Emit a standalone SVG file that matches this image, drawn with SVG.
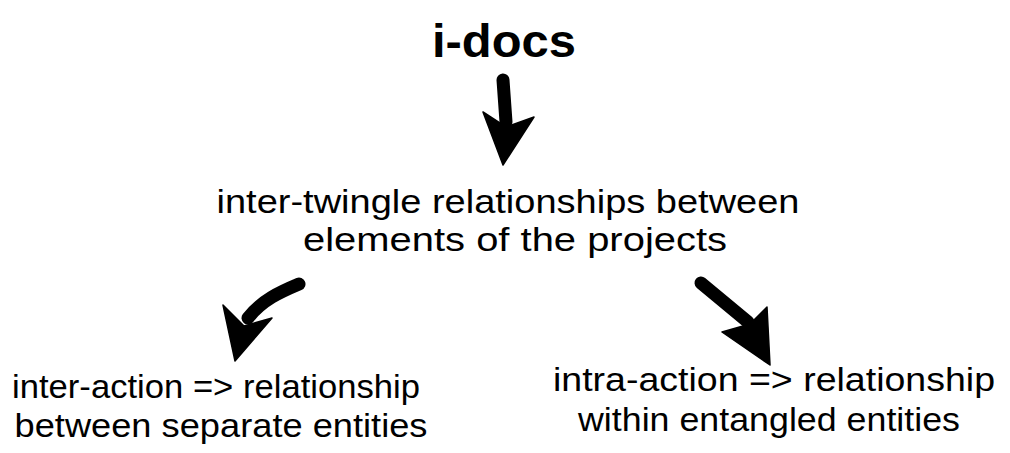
<svg xmlns="http://www.w3.org/2000/svg" width="1010" height="453" viewBox="0 0 1010 453">
<style>
.t{font-family:"Liberation Sans","Open Sans",sans-serif;fill:#000;font-size:33px}
.title{font-family:"Liberation Sans","Open Sans",sans-serif;fill:#000;font-size:46px;font-weight:bold}
.shaft{fill:none;stroke:#000;stroke-width:13;stroke-linecap:round;stroke-linejoin:round}
.head{fill:#000;stroke:#000;stroke-width:1.5;stroke-linejoin:round}
</style>
<rect width="1010" height="453" fill="#fff"/>
<g id="node-idocs"><text class="title" x="504" y="57" text-anchor="middle" textLength="144" lengthAdjust="spacingAndGlyphs">i-docs</text></g>
<g id="node-intertwingle">
<text class="t" x="508" y="213" text-anchor="middle" textLength="583" lengthAdjust="spacingAndGlyphs">inter-twingle relationships between</text>
<text class="t" x="515" y="251" text-anchor="middle" textLength="424" lengthAdjust="spacingAndGlyphs">elements of the projects</text>
</g>
<g id="node-interaction">
<text class="t" x="216" y="398" text-anchor="middle" textLength="408" lengthAdjust="spacingAndGlyphs">inter-action =&gt; relationship</text>
<text class="t" x="221" y="437" text-anchor="middle" textLength="413" lengthAdjust="spacingAndGlyphs">between separate entities</text>
</g>
<g id="node-intraaction">
<text class="t" x="774" y="391" text-anchor="middle" textLength="442" lengthAdjust="spacingAndGlyphs">intra-action =&gt; relationship</text>
<text class="t" x="769" y="431" text-anchor="middle" textLength="382" lengthAdjust="spacingAndGlyphs">within entangled entities</text>
</g>
<g id="connectors">
<path class="shaft" d="M503,80 L506,122"/>
<polygon class="head" points="483,112 506,127 534,117 503,165"/>
<path class="shaft" d="M299,284 C280,292 262,300 248,318"/>
<polygon class="head" points="223,305 244,326 272,318 235,361"/>
<path class="shaft" d="M701,283 L748,322"/>
<polygon class="head" points="767,307 750,324 722,332 770,365"/>
</g>
</svg>
